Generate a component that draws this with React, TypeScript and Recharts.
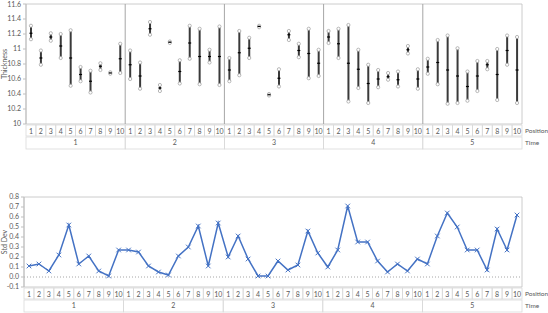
import {
  Bar,
  ComposedChart,
  Line,
  LineChart,
  ReferenceArea,
  ReferenceLine,
  XAxis,
  YAxis,
} from "recharts";

const TIMES = [1, 2, 3, 4, 5];
const POSITIONS = [1, 2, 3, 4, 5, 6, 7, 8, 9, 10];

// thickness per time (rows) and position (columns)
const THICK_MAX = [
  [11.31, 10.98, 11.21, 11.2, 11.25, 10.76, 10.71, 10.81, 10.69, 11.07],
  [10.98, 10.82, 11.36, 10.52, 11.1, 10.85, 11.31, 11.27, 10.99, 11.3],
  [10.88, 11.24, 11.15, 11.31, 10.4, 10.73, 11.24, 11.07, 11.27, 10.99],
  [11.24, 11.27, 11.32, 10.99, 10.79, 10.72, 10.68, 10.7, 11.04, 10.73],
  [10.87, 11.12, 11.18, 11.01, 10.7, 10.84, 10.84, 11.0, 11.18, 11.16],
];
const THICK_MIN = [
  [11.13, 10.79, 11.11, 10.88, 10.51, 10.57, 10.42, 10.72, 10.67, 10.68],
  [10.6, 10.47, 11.19, 10.44, 11.08, 10.54, 10.87, 10.53, 10.82, 10.52],
  [10.57, 10.65, 10.88, 11.29, 10.38, 10.5, 11.12, 10.89, 10.61, 10.64],
  [11.08, 10.88, 10.3, 10.48, 10.28, 10.49, 10.59, 10.5, 10.94, 10.47],
  [10.67, 10.53, 10.27, 10.28, 10.31, 10.44, 10.73, 10.32, 10.79, 10.28],
];
const THICK_MEAN = [
  [11.21, 10.88, 11.16, 11.04, 10.88, 10.66, 10.57, 10.77, 10.68, 10.87],
  [10.79, 10.64, 11.27, 10.48, 11.09, 10.7, 11.08, 10.9, 10.9, 10.9],
  [10.72, 10.95, 11.01, 11.3, 10.39, 10.61, 11.19, 10.98, 10.94, 10.81],
  [11.16, 11.07, 10.81, 10.73, 10.54, 10.6, 10.63, 10.59, 10.99, 10.6],
  [10.76, 10.82, 10.72, 10.64, 10.5, 10.64, 10.79, 10.66, 10.98, 10.72],
];
const STD_DEV = [
  [0.11, 0.13, 0.06, 0.22, 0.52, 0.13, 0.21, 0.06, 0.01, 0.27],
  [0.27, 0.25, 0.11, 0.05, 0.02, 0.21, 0.3, 0.51, 0.11, 0.54],
  [0.2, 0.41, 0.18, 0.01, 0.01, 0.16, 0.07, 0.12, 0.46, 0.24],
  [0.1, 0.27, 0.71, 0.35, 0.35, 0.16, 0.05, 0.13, 0.06, 0.18],
  [0.13, 0.41, 0.64, 0.5, 0.27, 0.27, 0.07, 0.48, 0.27, 0.62],
];

const THICK_TICKS = [10, 10.2, 10.4, 10.6, 10.8, 11, 11.2, 11.4, 11.6];
const SD_TICKS = [-0.1, 0, 0.1, 0.2, 0.3, 0.4, 0.5, 0.6, 0.7, 0.8];

const rows = TIMES.flatMap((time, ti) =>
  POSITIONS.map((pos, pi) => ({
    i: ti * POSITIONS.length + pi,
    time,
    pos,
    range: [THICK_MIN[ti][pi], THICK_MAX[ti][pi]],
    max: THICK_MAX[ti][pi],
    min: THICK_MIN[ti][pi],
    mean: THICK_MEAN[ti][pi],
    sd: STD_DEV[ti][pi],
  }))
);

const N = rows.length;
const DOMAIN: [number, number] = [-0.5, N - 0.5];
const POS_TICKS = rows.map((r) => r.i);
const TIME_TICKS = TIMES.map((_, ti) => ti * POSITIONS.length + (POSITIONS.length - 1) / 2);

const W = 548;
const RIGHT = 26;
const FONT = "Lato, 'Noto Sans', sans-serif";
const TEXT = "#595959";
const CELL = "#d9d9d9";

function makePosTick(left: number) {
  const bw = (W - left - RIGHT) / N;
  return function PosTick(props: any) {
    const { x, y, payload } = props;
    const r = rows[payload.value];
    return (
      <g>
        <rect x={x - bw / 2} y={y + 1} width={bw} height={11} fill="none" stroke={CELL} strokeWidth={0.8} />
        <text x={x} y={y + 9.5} textAnchor="middle" fontSize={7} fill={TEXT} fontFamily={FONT}>
          {r ? r.pos : ""}
        </text>
      </g>
    );
  };
}

function makeTimeTick(left: number) {
  const gw = ((W - left - RIGHT) / N) * POSITIONS.length;
  return function TimeTick(props: any) {
    const { x, y, index } = props;
    return (
      <g>
        <rect x={x - gw / 2} y={y} width={gw} height={12} fill="none" stroke={CELL} strokeWidth={0.8} />
        <text x={x} y={y + 8} textAnchor="middle" fontSize={7} fill={TEXT} fontFamily={FONT}>
          {TIMES[index]}
        </text>
      </g>
    );
  };
}

function EndDot(props: any) {
  const { cx, cy } = props;
  if (cx == null || cy == null) return null;
  return <circle cx={cx} cy={cy} r={1.6} fill="#fff" stroke="#a6a6a6" strokeWidth={0.8} />;
}

function MeanDot(props: any) {
  const { cx, cy } = props;
  if (cx == null || cy == null) return null;
  return <line x1={cx - 1.5} x2={cx + 1.5} y1={cy} y2={cy} stroke="#000" strokeWidth={1.2} />;
}

function Cross(props: any) {
  const { cx, cy } = props;
  if (cx == null || cy == null) return null;
  const s = 2.3;
  return (
    <path
      d={`M${cx - s},${cy - s}L${cx + s},${cy + s}M${cx - s},${cy + s}L${cx + s},${cy - s}`}
      stroke="#4472c4"
      strokeWidth={1}
    />
  );
}

const tickStyle = { fontSize: 7, fill: TEXT, fontFamily: FONT };
const sideLabel = { position: "right" as const, offset: 3, fontSize: 6.5, fill: TEXT, fontFamily: FONT };
const PosTickTop = makePosTick(26);
const TimeTickTop = makeTimeTick(26);
const PosTickBottom = makePosTick(24);
const TimeTickBottom = makeTimeTick(24);

export default function App() {
  return (
    <div style={{ position: "absolute", left: 0, top: 0, width: W, height: 313, background: "#fff", fontFamily: FONT }}>
      <ComposedChart width={W} height={155} data={rows} margin={{ top: 4, right: RIGHT, bottom: 6, left: 0 }}>
        <XAxis
          xAxisId="pos"
          type="number"
          dataKey="i"
          domain={DOMAIN}
          ticks={POS_TICKS}
          interval={0}
          height={13}
          axisLine={false}
          tickLine={false}
          tickSize={0}
          tickMargin={0}
          tick={<PosTickTop />}
          label={{ value: "Position", ...sideLabel }}
        />
        <XAxis
          xAxisId="time"
          type="number"
          dataKey="i"
          domain={DOMAIN}
          ticks={TIME_TICKS}
          interval={0}
          height={12}
          axisLine={false}
          tickLine={false}
          tickSize={0}
          tickMargin={0}
          tick={<TimeTickTop />}
          label={{ value: "Time", ...sideLabel }}
        />
        <YAxis
          width={26}
          domain={[10, 11.6]}
          ticks={THICK_TICKS}
          interval={0}
          tickFormatter={(v) => String(Number(Number(v).toFixed(1)))}
          tick={tickStyle}
          tickSize={3}
          tickMargin={2}
          stroke="#bfbfbf"
          label={{ value: "Thickness", angle: -90, position: "insideLeft", offset: 5, fontSize: 7, fill: TEXT, fontFamily: FONT, style: { textAnchor: "middle" } }}
        />
        <ReferenceArea xAxisId="pos" x1={DOMAIN[0]} x2={DOMAIN[1]} y1={10} y2={11.6} fill="none" stroke="#bfbfbf" strokeWidth={0.8} />
        {TIME_TICKS.slice(1).map((t) => (
          <ReferenceLine key={t} xAxisId="pos" x={t - POSITIONS.length / 2} stroke="#a6a6a6" strokeWidth={1} />
        ))}
        <Bar xAxisId="pos" dataKey="range" barSize={2} fill="#3a3a3a" isAnimationActive={false} />
        <Line xAxisId="pos" dataKey="max" stroke="none" dot={<EndDot />} activeDot={false} isAnimationActive={false} />
        <Line xAxisId="pos" dataKey="min" stroke="none" dot={<EndDot />} activeDot={false} isAnimationActive={false} />
        <Line xAxisId="pos" dataKey="mean" stroke="none" dot={<MeanDot />} activeDot={false} isAnimationActive={false} />
      </ComposedChart>

      <LineChart width={W} height={158} data={rows} margin={{ top: 42, right: RIGHT, bottom: 1, left: 0 }}>
        <XAxis
          xAxisId="pos"
          type="number"
          dataKey="i"
          domain={DOMAIN}
          ticks={POS_TICKS}
          interval={0}
          height={13}
          axisLine={false}
          tickLine={false}
          tickSize={0}
          tickMargin={0}
          tick={<PosTickBottom />}
          label={{ value: "Position", ...sideLabel }}
        />
        <XAxis
          xAxisId="time"
          type="number"
          dataKey="i"
          domain={DOMAIN}
          ticks={TIME_TICKS}
          interval={0}
          height={12}
          axisLine={false}
          tickLine={false}
          tickSize={0}
          tickMargin={0}
          tick={<TimeTickBottom />}
          label={{ value: "Time", ...sideLabel }}
        />
        <YAxis
          width={24}
          domain={[-0.1, 0.8]}
          ticks={SD_TICKS}
          interval={0}
          tickFormatter={(v) => Number(v).toFixed(1)}
          tick={tickStyle}
          tickSize={3}
          tickMargin={2}
          stroke="#bfbfbf"
          label={{ value: "Std Dev", angle: -90, position: "insideLeft", offset: 5, fontSize: 7, fill: TEXT, fontFamily: FONT, style: { textAnchor: "middle" } }}
        />
        <ReferenceArea xAxisId="pos" x1={DOMAIN[0]} x2={DOMAIN[1]} y1={-0.1} y2={0.8} fill="none" stroke="#bfbfbf" strokeWidth={0.8} />
        <ReferenceLine xAxisId="pos" y={0} stroke="#a6a6a6" strokeDasharray="1 2" />
        <Line
          xAxisId="pos"
          dataKey="sd"
          stroke="#4472c4"
          strokeWidth={1.5}
          dot={<Cross />}
          activeDot={false}
          isAnimationActive={false}
        />
      </LineChart>
    </div>
  );
}
